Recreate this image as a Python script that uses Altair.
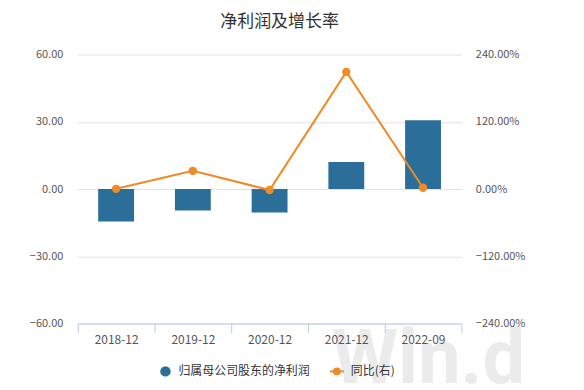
import altair as alt
import pandas as pd

categories = ["2018-12", "2019-12", "2020-12", "2021-12", "2022-09"]
net_profit = [-14.5, -9.6, -10.5, 12.0, 30.7]
growth_pct = [0.4, 32.5, -1.8, 209.0, 2.3]
series_names = ["归属母公司股东的净利润", "同比(右)"]
left_ticks = [-60, -30, 0, 30, 60]
right_ticks = [-240, -120, 0, 120, 240]
watermark = ["Win.d"]

BLUE = "#2b6e99"
ORANGE = "#f08a24"
FONT = "Noto Sans CJK SC"

df = pd.DataFrame({"period": categories, "profit": net_profit, "growth": growth_pct})

x_enc = alt.X(
    "period:N",
    sort=categories,
    title=None,
    scale=alt.Scale(paddingInner=0.0, paddingOuter=0.0),
    axis=alt.Axis(
        labelAngle=0,
        tickBand="extent",
        tickSize=9,
        tickColor="#b9cbe6",
        domainColor="#b9cbe6",
        labelColor="#555555",
        labelFontSize=12,
        labelFont=FONT,
        labelPadding=2,
        grid=False,
        zindex=1,
    ),
)

bars = alt.Chart(df).mark_bar(color=BLUE, size=36).encode(
    x=x_enc,
    y=alt.Y(
        "profit:Q",
        title=None,
        scale=alt.Scale(domain=[-60, 60], nice=False),
        axis=alt.Axis(
            values=left_ticks,
            format=".2f",
            domain=False,
            ticks=False,
            labelPadding=15,
            labelColor="#555555",
            labelFontSize=11,
            labelFont=FONT,
            grid=True,
            gridColor="#e2e2e2",
        ),
    ),
)

line = alt.Chart(df).mark_line(
    color=ORANGE,
    strokeWidth=2,
    point=alt.OverlayMarkDef(color=ORANGE, filled=True, size=70, opacity=1),
).encode(
    x=alt.X("period:N", sort=categories),
    y=alt.Y(
        "growth:Q",
        title=None,
        scale=alt.Scale(domain=[-240, 240], nice=False),
        axis=alt.Axis(
            orient="right",
            values=right_ticks,
            labelExpr="format(datum.value, '.2f') + '%'",
            domain=False,
            ticks=False,
            grid=False,
            labelPadding=14,
            labelColor="#555555",
            labelFontSize=11,
            labelFont=FONT,
            zindex=1,
        ),
    ),
)

wm = alt.Chart(pd.DataFrame({"t": watermark})).mark_text(
    font="Roboto",
    fontSize=76,
    fontWeight="bold",
    color="#ebebeb",
    align="left",
    baseline="alphabetic",
).encode(text="t:N", x=alt.value(255), y=alt.value(330))

leg_df = pd.DataFrame({"name": series_names})
leg_circle = alt.Chart(leg_df).transform_filter(alt.datum.name == series_names[0]).mark_point(
    shape="circle", filled=True, size=110, color=BLUE, opacity=1
).encode(x=alt.value(88), y=alt.value(318))
leg_rule = alt.Chart(leg_df).transform_filter(alt.datum.name == series_names[1]).mark_rule(
    color=ORANGE, strokeWidth=2
).encode(x=alt.value(253), x2=alt.value(267), y=alt.value(318))
leg_dot = alt.Chart(leg_df).transform_filter(alt.datum.name == series_names[1]).mark_point(
    shape="circle", filled=True, size=60, color=ORANGE, opacity=1
).encode(x=alt.value(260), y=alt.value(318))
leg_text1 = alt.Chart(leg_df).transform_filter(alt.datum.name == series_names[0]).mark_text(
    align="left", baseline="middle", fontSize=12, font=FONT, color="#333333"
).encode(text="name:N", x=alt.value(101), y=alt.value(318))
leg_text2 = alt.Chart(leg_df).transform_filter(alt.datum.name == series_names[1]).mark_text(
    align="left", baseline="middle", fontSize=12, font=FONT, color="#333333"
).encode(text="name:N", x=alt.value(274), y=alt.value(318))

chart = alt.layer(
    wm, bars, line, leg_circle, leg_rule, leg_dot, leg_text1, leg_text2
).resolve_scale(y="independent").properties(
    width=385,
    height=270,
    title=alt.TitleParams(
        "净利润及增长率", fontSize=17, font=FONT, fontWeight="normal", color="#333333",
        anchor="middle", dx=10, offset=18,
    ),
    autosize=alt.AutoSizeParams(type="none"),
    padding={"left": 70, "top": 46, "right": 115, "bottom": 60},
).configure_view(stroke=None)

chart.save("out.html", embed_options={"renderer": "svg", "actions": False})
